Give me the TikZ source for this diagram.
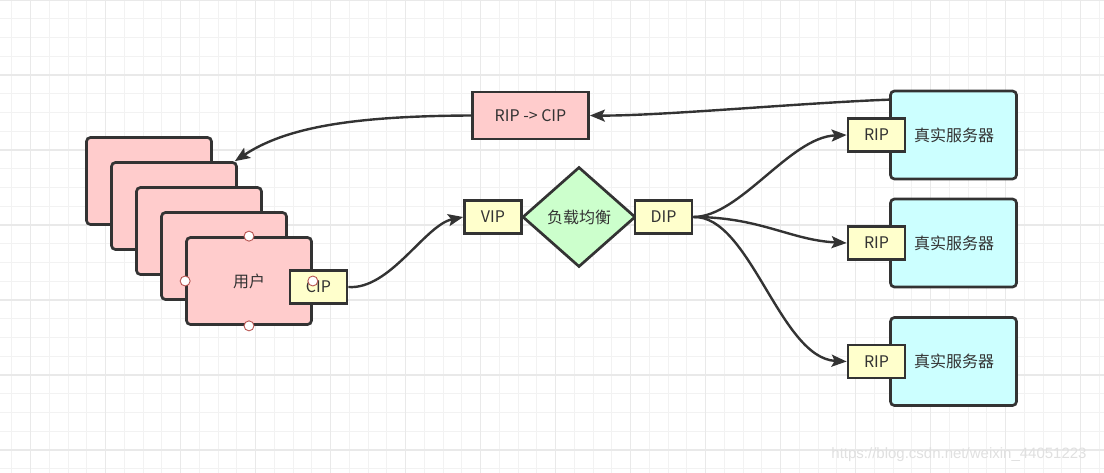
\documentclass[tikz,border=0pt]{standalone}
\usepackage{fontspec}
\setmainfont{Noto Sans CJK SC}
\newfontfamily\wmfont{Liberation Sans}
\usetikzlibrary{arrows.meta,shapes.geometric}
\definecolor{ink}{HTML}{333333}
\definecolor{pinkfill}{HTML}{FFCCCC}
\definecolor{yelfill}{HTML}{FFFFCC}
\definecolor{grnfill}{HTML}{CCFFCC}
\definecolor{cyanfill}{HTML}{CCFFFF}
\definecolor{gridminor}{HTML}{F2F2F2}
\definecolor{gridmajor}{HTML}{E9E9E9}
\definecolor{handlered}{HTML}{B85450}
\tikzset{
  box/.style={draw=ink, line width=2.7pt, rounded corners=4pt, inner sep=0pt,
    text=ink, font=\fontsize{16}{19}\selectfont},
  userbox/.style={box, fill=pinkfill, minimum width=125pt, minimum height=87pt},
  srvbox/.style={box, fill=cyanfill, minimum width=126pt, minimum height=88pt},
  tagbox/.style={box, rounded corners=0pt, fill=yelfill, minimum width=57pt, minimum height=33pt},
  handle/.style={circle, draw=handlered, fill=white, line width=0.9pt, minimum size=10pt, inner sep=0pt},
  arr/.style={draw=ink, line width=2.4pt, -{Stealth[length=15pt,width=12pt,inset=3pt]}},
}
\begin{document}
\begin{tikzpicture}[x=1pt,y=-1pt]
\useasboundingbox[fill=white] (0,0) rectangle (1104,473);
% grid
\foreach \i in {0,...,58} \draw[gridminor, line width=1pt] ({11.9+18.75*\i},0) -- ++(0,473);
\foreach \j in {0,...,25} \draw[gridminor, line width=1pt] (0,{18.75*\j}) -- ++(1104,0);
\foreach \i in {0,...,14} \draw[gridmajor, line width=1.2pt] ({30.65+75*\i},0) -- ++(0,473);
\foreach \j in {0,...,6} \draw[gridmajor, line width=1.2pt] (0,{75*\j}) -- ++(1104,0);

% watermark
\node[text=black!12, font=\wmfont\fontsize{15}{18}\selectfont] (wm) at (959,455) {https://blog.csdn.net/weixin\_44051223};

% users stack
\node[userbox] (U1) at (149,181) {};
\node[userbox] (U2) at (174,206) {};
\node[userbox] (U3) at (199,231) {};
\node[userbox] (U4) at (224,256) {};
\node[userbox] (U5) at (249,281) {用户};
\node[tagbox] (CIP) at (318.5,287) {CIP};
\node[handle] (h1) at (U5.north) {};
\node[handle] (h2) at (U5.south) {};
\node[handle] (h3) at (U5.west) {};
\node[handle] (h4) at (U5.east) {};

% RIP -> CIP
\node[box, rounded corners=0pt, fill=pinkfill, minimum width=116pt, minimum height=47pt] (RC) at (530.5,115.5) {RIP -> CIP};

% load balancer
\node[box, rounded corners=0pt, diamond, fill=grnfill, minimum width=113pt, minimum height=100pt] (LB) at (579,217) {负载均衡};
\node[tagbox] (VIP) at (493,217) {VIP};
\node[tagbox] (DIP) at (663.5,217) {DIP};

% servers
\node[srvbox] (S1) at (953.5,135) {\hspace*{1pt}真实服务器};
\node[srvbox] (S2) at (953.5,243) {\hspace*{1pt}真实服务器};
\node[srvbox] (S3) at (953.5,361.5) {\hspace*{1pt}真实服务器};
\node[tagbox] (R1) at (876.5,135) {RIP};
\node[tagbox] (R2) at (876.5,243) {RIP};
\node[tagbox] (R3) at (876.5,361.5) {RIP};

% connectors
\path (S1.north west) ++(0,10) coordinate (s1o);
\draw[arr] (s1o) .. controls (800,103) and (660,116) .. (RC.east);
\path (U2.north east) ++(-3,0) coordinate (u2t);
\draw[arr] (RC.west) .. controls (350,116) and (285,128) .. (u2t);
\draw[arr] (CIP.east) .. controls (390,290) and (425,225) .. (VIP.west);
\draw[arr] (DIP.east) .. controls (740,217) and (790,137) .. (R1.west);
\draw[arr] (DIP.east) .. controls (760,217) and (790,240) .. (R2.west);
\draw[arr] (DIP.east) .. controls (750,215) and (780,358) .. (R3.west);
\end{tikzpicture}
\end{document}
